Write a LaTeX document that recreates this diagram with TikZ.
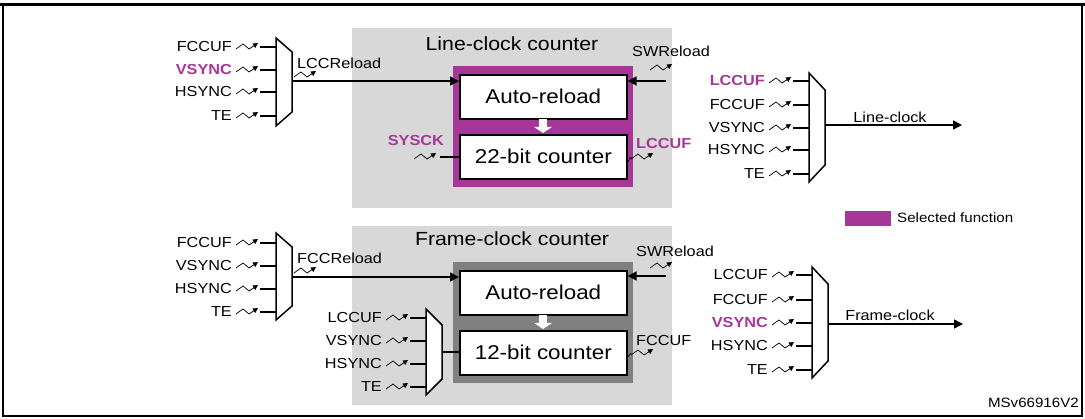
\documentclass[tikz,border=0pt]{standalone}
\usepackage{fontspec}
\setmainfont{Liberation Sans}[FakeStretch=1.12]
\usetikzlibrary{arrows.meta}
\definecolor{sel}{RGB}{166,55,152}
\definecolor{lgray}{RGB}{216,216,216}
\definecolor{dgray}{RGB}{128,128,128}
\begin{document}
\begin{tikzpicture}[x=1pt,y=-1pt,
  lab/.style={font=\fontsize{14.5}{15}\selectfont,inner sep=0pt},
  sellab/.style={lab,text=sel,font=\fontsize{14.5}{15}\selectfont\bfseries},
  ttl/.style={font=\fontsize{19}{20}\selectfont,inner sep=0pt},
  blk/.style={draw,line width=1.6pt,fill=white,minimum width=167pt,minimum height=44pt,font=\fontsize{20}{21}\selectfont},
  wire/.style={line width=1.5pt},
  arr/.style={line width=1.5pt,-{Triangle[length=9pt,width=9pt]}},
  wv/.style={line width=0.7pt,-{Triangle[length=5pt,width=5pt]}},
  pics/wave/.style={code={\draw[wv] (0,1) -- (7,-4) -- (13,1) -- (22,-5);}}]
\useasboundingbox (0,0) rectangle (1085,419);
\draw[line width=3pt] (0,5) -- (1085,5);
\draw[line width=1.3pt] (3,5) -- (3,416) -- (1082,416) -- (1082,5);
\newcommand\muxshape[5]{%
  \draw[line width=1.5pt,fill=white] (#2,#3) -- (#2+16,#3+#5) -- (#2+16,#4-#5) -- (#2,#4) -- cycle;
  \coordinate (#1-l) at (#2,0);
  \coordinate (#1-r) at (#2+16,0);}
\newcommand\muxin[4]{%
  \draw[wire] ([xshift=-16pt]#1-l |- 0,#2) -- (#1-l |- 0,#2);
  \pic at ([xshift=-40pt]#1-l |- 0,#2+1) {wave};
  \node[#4,anchor=east] at ([xshift=-44pt]#1-l |- 0,#2) {#3};}
% ===== top
\fill[lgray] (352,28) rectangle (672,208);
\node[ttl] (t1) at (512,44) {Line-clock counter};
\fill[sel] (453,66) rectangle (633,187);
\node[blk,anchor=north west] (ar1) at (459,74) {Auto-reload};
\node[blk,anchor=north west] (c1) at (459,134) {22-bit counter};
\fill[white] (539,119) rectangle (547,127);
\fill[white] (534,127) -- (552,127) -- (543,133) -- cycle;
\muxshape{m1}{276}{38}{126}{14}
\muxin{m1}{47}{FCCUF}{lab}
\muxin{m1}{70}{VSYNC}{sellab}
\muxin{m1}{92}{HSYNC}{lab}
\muxin{m1}{116}{TE}{lab}
\draw[arr] (m1-r |- 0,81) -- (ar1.west |- 0,81);
\node[lab,anchor=west] at (297,63) {LCCReload};
\pic at (294,76) {wave};
\node[lab,anchor=west] at (632,51) {SWReload};
\pic at (650,69) {wave};
\coordinate (sw1) at (666,81);
\draw[arr] (sw1) -- (ar1.east |- sw1);
\node[sellab,anchor=east] at (444,141) {SYSCK};
\pic at (414,158) {wave};
\coordinate (sy1) at (440,157);
\draw[line width=1.2pt] (sy1) -- (c1.west |- sy1);
\node[sellab,anchor=west] at (636,144) {LCCUF};
\draw[line width=0.7pt] (c1.east |- 0,162) -- (631,157);
\pic at (631,158) {wave};
% right top mux
\muxshape{m2}{809}{73}{182}{17}
\muxin{m2}{81}{LCCUF}{sellab}
\muxin{m2}{105}{FCCUF}{lab}
\muxin{m2}{128}{VSYNC}{lab}
\muxin{m2}{150}{HSYNC}{lab}
\muxin{m2}{174}{TE}{lab}
\coordinate (lc) at (962,125);
\draw[arr] (m2-r |- lc) -- (lc);
\node[lab] at (890,117) {Line-clock};
% legend
\fill[sel] (845,211) rectangle (891,226);
\node[lab,anchor=west,font=\fontsize{13.5}{14}\selectfont] at (897,218) {Selected function};
% ===== bottom
\fill[lgray] (352,226) rectangle (672,405);
\node[ttl] (t2) at (512,239) {Frame-clock counter};
\fill[dgray] (453,262) rectangle (633,383);
\node[blk,anchor=north west] (ar2) at (459,270) {Auto-reload};
\node[blk,anchor=north west] (c2) at (459,330) {12-bit counter};
\fill[white] (539,315) rectangle (547,323);
\fill[white] (534,323) -- (552,323) -- (543,329) -- cycle;
\muxshape{m3}{276}{233}{320}{14}
\muxin{m3}{243}{FCCUF}{lab}
\muxin{m3}{266}{VSYNC}{lab}
\muxin{m3}{289}{HSYNC}{lab}
\muxin{m3}{312}{TE}{lab}
\draw[arr] (m3-r |- 0,277) -- (ar2.west |- 0,277);
\node[lab,anchor=west] at (297,258) {FCCReload};
\pic at (294,272) {wave};
\node[lab,anchor=west] at (636,251) {SWReload};
\pic at (650,267) {wave};
\coordinate (sw2) at (666,276);
\draw[arr] (sw2) -- (ar2.east |- sw2);
\muxshape{m4}{426}{309}{395}{16}
\muxin{m4}{318}{LCCUF}{lab}
\muxin{m4}{341}{VSYNC}{lab}
\muxin{m4}{364}{HSYNC}{lab}
\muxin{m4}{387}{TE}{lab}
\draw[wire] (m4-r |- 0,352) -- (c2.west |- 0,352);
\node[lab,anchor=west] at (636,341) {FCCUF};
\draw[line width=0.7pt] (c2.east |- 0,357) -- (631,353);
\pic at (631,354) {wave};
\muxshape{m5}{812}{267}{378}{17}
\muxin{m5}{275}{LCCUF}{lab}
\muxin{m5}{300}{FCCUF}{lab}
\muxin{m5}{323}{VSYNC}{sellab}
\muxin{m5}{346}{HSYNC}{lab}
\muxin{m5}{370}{TE}{lab}
\coordinate (fc) at (963,324);
\draw[arr] (m5-r |- fc) -- (fc);
\node[lab] at (890,315) {Frame-clock};
\node[lab,anchor=east,font=\fontsize{13.5}{14}\selectfont] at (1079,403) {MSv66916V2};
\end{tikzpicture}
\end{document}
